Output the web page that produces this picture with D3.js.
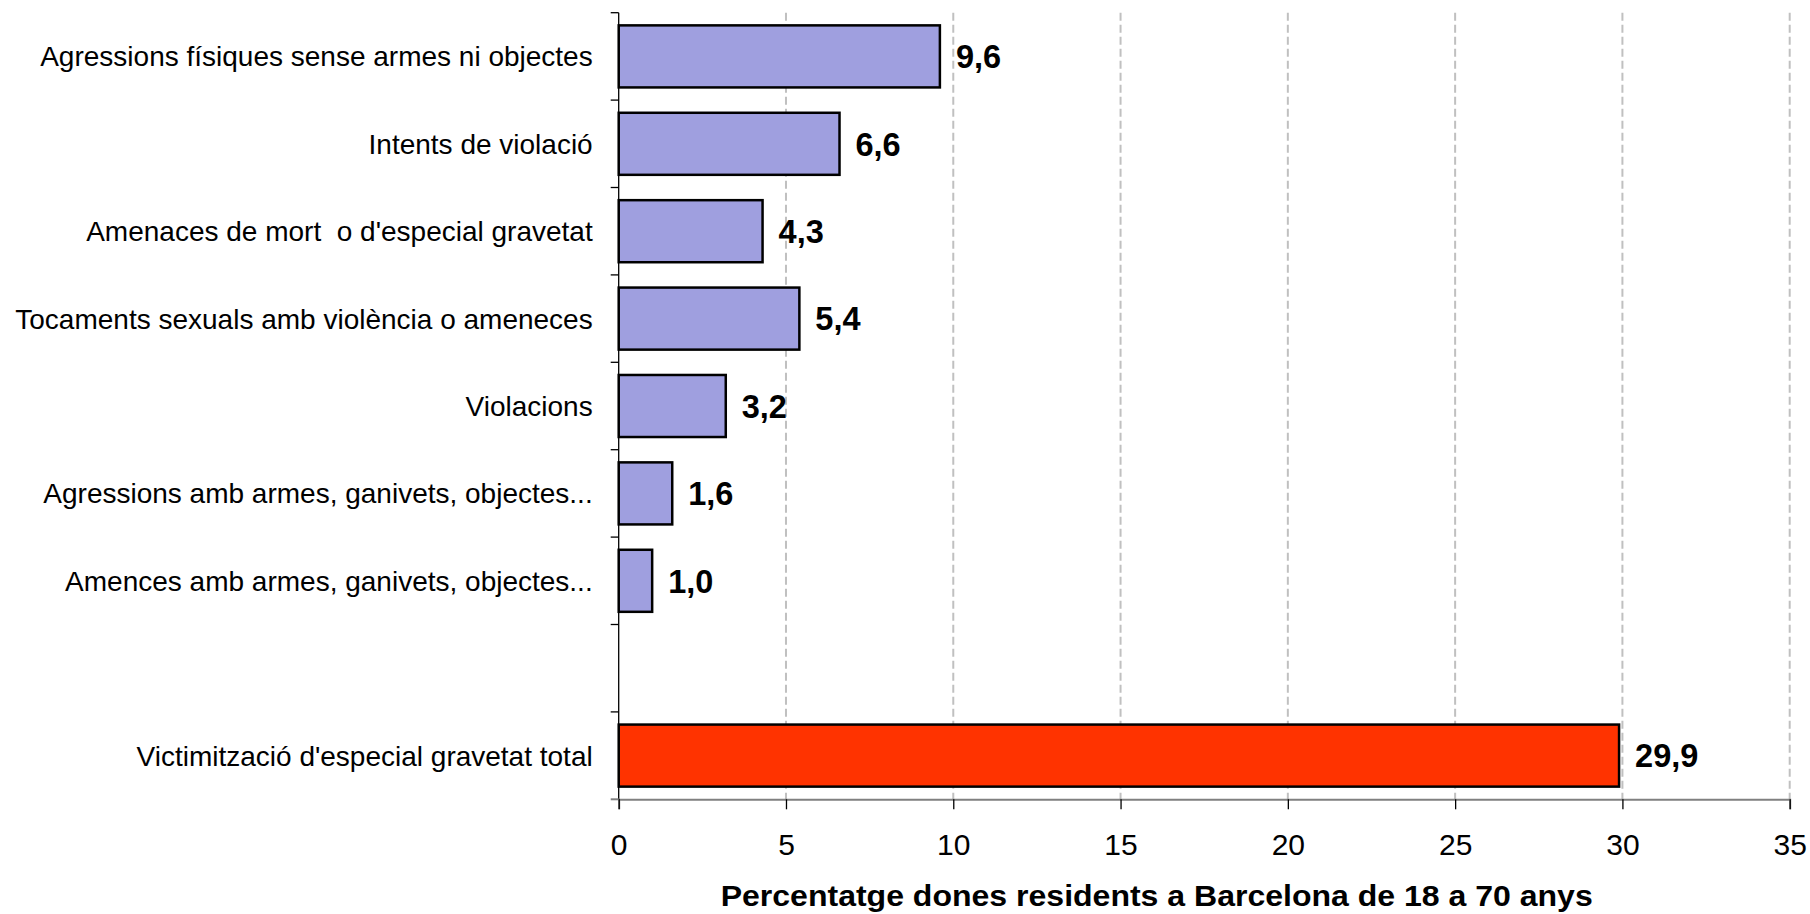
<!DOCTYPE html>
<html>
<head>
<meta charset="utf-8">
<script src="https://cdn.jsdelivr.net/npm/d3@7"></script>
<style>
  html, body { margin: 0; padding: 0; background: #ffffff; }
  svg { display: block; }
  text { font-family: "Liberation Sans", Arial, sans-serif; fill: #000; white-space: pre; }
</style>
</head>
<body>
<svg id="chart" width="1810" height="914"></svg>
<script>
const categories = [
  "Agressions físiques sense armes ni objectes",
  "Intents de violació",
  "Amenaces de mort  o d'especial gravetat",
  "Tocaments sexuals amb violència o ameneces",
  "Violacions",
  "Agressions amb armes, ganivets, objectes...",
  "Amences amb armes, ganivets, objectes...",
  "",
  "Victimització d'especial gravetat total"
];
const values = [9.6, 6.6, 4.3, 5.4, 3.2, 1.6, 1.0, null, 29.9];
const valueLabels = ["9,6", "6,6", "4,3", "5,4", "3,2", "1,6", "1,0", "", "29,9"];
const xTicks = [0, 5, 10, 15, 20, 25, 30, 35];
const xTitle = "Percentatge dones residents a Barcelona de 18 a 70 anys";
const barColors = ["#9f9fdf", "#9f9fdf", "#9f9fdf", "#9f9fdf", "#9f9fdf", "#9f9fdf", "#9f9fdf", "#9f9fdf", "#ff3300"];

(function () {
const svg = d3.select("#chart");
const mLeft = 618.7, mRight = 1789.7, mTop = 12.7, mBottom = 799.3;

const x = d3.scaleLinear().domain([0, 35]).range([mLeft, mRight]);
const y = d3.scaleBand().domain(d3.range(categories.length)).range([mTop, mBottom])
  .paddingInner(0.29).paddingOuter(0.145);

// dashed grid
svg.append("g").selectAll("line").data(xTicks.filter(d => d > 0)).join("line")
  .attr("x1", d => x(d)).attr("x2", d => x(d))
  .attr("y1", mTop).attr("y2", mBottom)
  .attr("stroke", "#c0c0c0").attr("stroke-width", 2)
  .attr("stroke-dasharray", "8,4");

// bars
const data = categories.map((c, i) => ({ c, v: values[i], lab: valueLabels[i], col: barColors[i], i }))
  .filter(d => d.v != null);

svg.append("g").selectAll("rect").data(data).join("rect")
  .attr("x", x(0))
  .attr("y", d => y(d.i))
  .attr("width", d => x(d.v) - x(0))
  .attr("height", y.bandwidth())
  .attr("fill", d => d.col)
  .attr("stroke", "#000").attr("stroke-width", 2.5);

// value labels
svg.append("g").selectAll("text").data(data).join("text")
  .attr("x", d => x(d.v) + 16)
  .attr("y", d => y(d.i) + y.bandwidth() / 2)
  .attr("dy", "0.36em")
  .attr("font-size", 32.5).attr("font-weight", "bold")
  .text(d => d.lab);

// bottom axis
const xAxis = d3.axisBottom(x).tickValues(xTicks).tickSize(10).tickPadding(24).tickFormat(d3.format("d"));
const gx = svg.append("g").attr("transform", `translate(0,${mBottom})`).call(xAxis);
gx.select(".domain").attr("stroke", "#808080").attr("stroke-width", 2);
gx.selectAll(".tick line").attr("stroke", "#000").attr("stroke-width", 1.3);
gx.selectAll(".tick text").attr("font-size", 30).attr("font-family", "\"Liberation Sans\", Arial, sans-serif").attr("fill", "#000");

// left axis: line plus boundary ticks
const boundaries = d3.range(categories.length).map(i => y(i) - y.step() * y.paddingInner() / 2);
svg.append("line").attr("x1", mLeft).attr("x2", mLeft).attr("y1", mTop).attr("y2", mBottom + 1)
  .attr("stroke", "#000").attr("stroke-width", 1.3);
svg.append("g").selectAll("line").data(boundaries).join("line")
  .attr("x1", mLeft - 8).attr("x2", mLeft)
  .attr("y1", d => d).attr("y2", d => d)
  .attr("stroke", "#000").attr("stroke-width", 1.3);
svg.append("line").attr("x1", mLeft - 8).attr("x2", mLeft).attr("y1", mBottom).attr("y2", mBottom)
  .attr("stroke", "#808080").attr("stroke-width", 2);

// category labels
svg.append("g").selectAll("text").data(categories.map((c, i) => ({ c, i }))).join("text")
  .attr("x", mLeft - 26)
  .attr("y", d => y(d.i) + y.bandwidth() / 2)
  .attr("dy", "0.36em")
  .attr("text-anchor", "end")
  .attr("font-size", 28)
  .text(d => d.c);

// axis title
svg.append("text")
  .attr("x", 720.7)
  .attr("y", 906)
  .attr("font-size", 29).attr("font-weight", "bold")
  .attr("textLength", 872).attr("lengthAdjust", "spacingAndGlyphs")
  .text(xTitle);
})();
</script>
</body>
</html>
